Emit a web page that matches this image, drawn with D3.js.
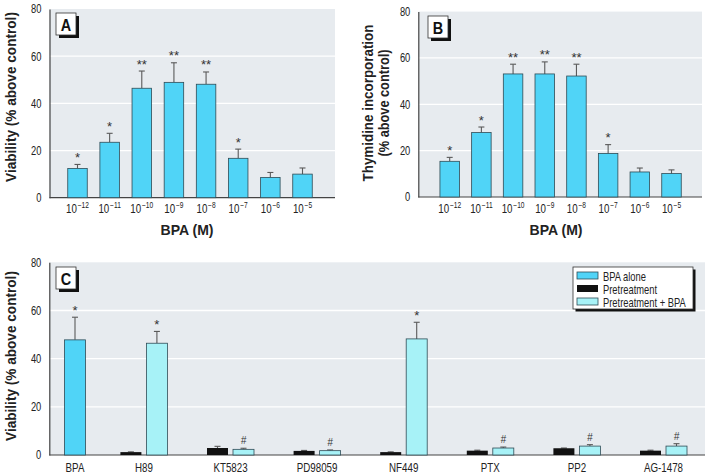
<!DOCTYPE html>
<html><head><meta charset="utf-8">
<script src="https://cdn.jsdelivr.net/npm/d3@7"></script>
<style>
body{margin:0;background:#fff;}
svg{display:block;font-family:"Liberation Sans",Arial,sans-serif;}
</style></head>
<body><svg id="c" width="706" height="475"></svg>
<script>
// ---- data ----
const concExp = ["\u221212","\u221211","\u221210","\u22129","\u22128","\u22127","\u22126","\u22125"];
const viabA    = [12.4, 23.5, 46.4, 48.9, 48.1, 16.7, 8.6, 10.0];
const viabAErr = [1.7, 3.8, 7.3, 8.3, 5.2, 3.9, 2.1, 2.6];
const sigA     = ["*","*","**","**","**","*","",""];
const thymB    = [15.4, 27.8, 53.1, 53.1, 52.2, 18.8, 10.8, 10.1];
const thymBErr = [1.7, 2.4, 4.2, 5.2, 5.1, 3.8, 1.7, 1.6];
const sigB     = ["*","*","**","**","**","*","",""];
const yTicks   = [0,20,40,60,80];

const groupsC      = ["BPA","H89","KT5823","PD98059","NF449","PTX","PP2","AG-1478"];
const bpaAlone     = [47.8, null, null, null, null, null, null, null];
const bpaAloneErr  = [9.4, null, null, null, null, null, null, null];
const pretreat     = [null, 1.2, 2.9, 1.7, 1.2, 1.8, 2.8, 1.8];
const pretreatErr  = [null, 0.1, 0.7, 0.2, 0.1, 0.2, 0.1, 0.2];
const pretreatBPA  = [null, 46.4, 2.35, 1.8, 48.2, 2.9, 3.7, 3.7];
const pretreatBPAErr=[null, 4.9, 0.45, 0.3, 6.9, 0.4, 0.6, 1.0];
const sigC         = ["*","*","#","#","*","#","#","#"];
const legendLabels = ["BPA alone","Pretreatment","Pretreatment + BPA"];

// ---- styles ----
const COL_BPA = "#50d4f7", COL_PRE = "#111111", COL_PB = "#a7f2f7";
const BG = "#e7ebef", STROKE = "#2f4b55", ERR = "#5a5a5a";
const TXT = "#222";
const CF = 0.78;

const svg = d3.select("#c");

// place a text at (x,y) with horizontal condensing via transform
function ctext(g, x, y, str, size, opts={}){
  const t = g.append("text").attr("font-size",size).attr("fill",opts.fill||TXT)
    .attr("text-anchor",opts.anchor||"middle").text(str);
  if(opts.bold) t.attr("font-weight","bold");
  let f = opts.f||CF;
  if(opts.len){ const L = t.node().getComputedTextLength(); f = opts.len/L; }
  t.attr("transform",`translate(${x},${y})${opts.rot?" rotate(-90)":""} scale(${f},1)`);
  t.__w = t.node().getComputedTextLength()*f;
  return t;
}

function panelFrame(g, x0, x1, y, label, lx, ly){
  g.append("rect").attr("x",x0).attr("y",y(80)).attr("width",x1-x0).attr("height",y(0)-y(80)).attr("fill",BG);
  yTicks.filter(t=>t>0 && t<80).forEach(t=>{
    g.append("line").attr("x1",x0).attr("x2",x1).attr("y1",y(t)).attr("y2",y(t)).attr("stroke","#fff").attr("stroke-width",1.3);
  });
  const ax = g.append("g").attr("transform",`translate(${x0},0)`)
    .call(d3.axisLeft(y).tickValues(yTicks).tickSize(0).tickPadding(8));
  ax.select(".domain").attr("stroke","#444").attr("stroke-width",1.2);
  ax.selectAll(".tick text").each(function(d){
    const el = d3.select(this);
    el.attr("font-size",12).attr("fill",TXT).attr("font-family",null).attr("x",null).attr("dy","0.32em")
      .attr("transform",`translate(-8,0) scale(${CF},1)`);
  });
  g.append("line").attr("x1",x0).attr("x2",x1).attr("y1",y(0)).attr("y2",y(0)).attr("stroke","#444").attr("stroke-width",1.2);
  // panel label box
  g.append("rect").attr("x",lx+3).attr("y",ly+3).attr("width",20).attr("height",22).attr("fill","#111");
  g.append("rect").attr("x",lx).attr("y",ly).attr("width",20).attr("height",22).attr("fill","#fff").attr("stroke","#333").attr("stroke-width",0.8);
  ctext(g, lx+10, ly+17.5, label, 17, {bold:true, fill:"#111", f:0.85});
}

function errBar(g, cx, y, v, e, cap){
  if(v==null||e==null) return;
  g.append("line").attr("x1",cx).attr("x2",cx).attr("y1",y(v)).attr("y2",y(v+e)).attr("stroke",ERR).attr("stroke-width",1.1);
  g.append("line").attr("x1",cx-cap).attr("x2",cx+cap).attr("y1",y(v+e)).attr("y2",y(v+e)).attr("stroke",ERR).attr("stroke-width",1.1);
}

function powerLabel(g, cx, yb, exp){
  const base = ctext(g, 0, 0, "10", 12.5, {anchor:"start"});
  const sup = ctext(g, 0, 0, exp, 8.5, {anchor:"start"});
  const w1 = base.__w, w2 = sup.__w;
  const x0 = cx - (w1 + 0.8 + w2)/2;
  base.attr("transform",`translate(${x0},${yb}) scale(${CF},1)`);
  sup.attr("transform",`translate(${x0+w1+0.8},${yb-5}) scale(${CF},1)`);
}

function concPanel(vals, errs, sigs, x0, x1, y, cRange, label, lx, ly){
  const g = svg.append("g");
  panelFrame(g, x0, x1, y, label, lx, ly);
  const x = d3.scalePoint().domain(concExp).range(cRange);
  const bw = 19.5;
  concExp.forEach((c,i)=>{
    const cx = x(c);
    errBar(g, cx, y, vals[i], errs[i], 3);
    g.append("rect").attr("x",cx-bw/2).attr("y",y(vals[i])).attr("width",bw).attr("height",y(0)-y(vals[i]))
      .attr("fill",COL_BPA).attr("stroke",STROKE).attr("stroke-width",0.8);
    if(sigs[i]) g.append("text").attr("x",cx).attr("y",y(vals[i]+errs[i])-2.5).attr("text-anchor","middle")
      .attr("font-size",13).attr("fill","#333").text(sigs[i]);
    powerLabel(g, cx, y(0)+15.5, c);
  });
  return g;
}

// Panel A
const yA = d3.scaleLinear().domain([0,80]).range([197.7, 9]);
const gA = concPanel(viabA, viabAErr, sigA, 49.5, 335, yA, [77.5, 302.5], "A", 56, 13);
ctext(gA, 187, 235, "BPA (M)", 15, {bold:true, len:53});
ctext(gA, 15.5, 97, "Viability (% above control)", 15, {bold:true, len:170, rot:true});

// Panel B
const yB = d3.scaleLinear().domain([0,80]).range([197, 11.6]);
const gB = concPanel(thymB, thymBErr, sigB, 418.3, 702, yB, [449.7, 671.5], "B", 428, 16);
ctext(gB, 556, 235, "BPA (M)", 15, {bold:true, len:53});
ctext(gB, 373, 103, "Thymidine incorporation", 15, {bold:true, len:157, rot:true});
ctext(gB, 389, 103, "(% above control)", 15, {bold:true, len:107, rot:true});

// Panel C
const yC = d3.scaleLinear().domain([0,80]).range([455, 262.3]);
const gC = svg.append("g");
panelFrame(gC, 49.3, 705, yC, "C", 56, 267);
const xC = d3.scalePoint().domain(groupsC).range([57.3, 663.5]);
const bwC = 21, gap = 2.5;
groupsC.forEach((grp,i)=>{
  const c = xC(grp);
  let markX=null, markTop=null, labX=c;
  if(bpaAlone[i]!=null){
    const bx = c + 17.7;
    errBar(gC, bx, yC, bpaAlone[i], bpaAloneErr[i], 3);
    gC.append("rect").attr("x",bx-bwC/2).attr("y",yC(bpaAlone[i])).attr("width",bwC).attr("height",yC(0)-yC(bpaAlone[i]))
      .attr("fill",COL_BPA).attr("stroke",STROKE).attr("stroke-width",0.8);
    markX = bx; markTop = bpaAlone[i]+bpaAloneErr[i]; labX = bx;
  } else {
    const bx0 = c - gap - bwC/2, bx1 = c + gap + bwC/2;
    errBar(gC, bx0, yC, pretreat[i], pretreatErr[i], 3);
    gC.append("rect").attr("x",bx0-bwC/2).attr("y",yC(pretreat[i])).attr("width",bwC).attr("height",yC(0)-yC(pretreat[i]))
      .attr("fill",COL_PRE);
    errBar(gC, bx1, yC, pretreatBPA[i], pretreatBPAErr[i], 3);
    gC.append("rect").attr("x",bx1-bwC/2).attr("y",yC(pretreatBPA[i])).attr("width",bwC).attr("height",yC(0)-yC(pretreatBPA[i]))
      .attr("fill",COL_PB).attr("stroke",STROKE).attr("stroke-width",0.8);
    markX = bx1; markTop = pretreatBPA[i]+pretreatBPAErr[i];
  }
  ctext(gC, labX, 472, grp, 12.5);
  if(sigC[i]=="#") gC.append("text").attr("x",markX).attr("y",yC(markTop)-4).attr("text-anchor","middle").attr("font-size",10).attr("fill","#333").attr("font-style","italic").text("#");
  else gC.append("text").attr("x",markX).attr("y",yC(markTop)-2.5).attr("text-anchor","middle").attr("font-size",13).attr("fill","#333").text(sigC[i]);
});
ctext(gC, 15.5, 356, "Viability (% above control)", 15, {bold:true, len:170, rot:true});

// Legend
const lg = gC.append("g");
lg.append("rect").attr("x",575.5).attr("y",269.5).attr("width",120).attr("height",42).attr("fill","#111");
lg.append("rect").attr("x",573).attr("y",267).attr("width",120).attr("height",42).attr("fill","#fff").attr("stroke","#333").attr("stroke-width",0.8);
const legCols = [COL_BPA, COL_PRE, COL_PB];
legendLabels.forEach((l,i)=>{
  const yy = 272 + i*13;
  lg.append("rect").attr("x",577).attr("y",yy).attr("width",21).attr("height",7).attr("fill",legCols[i]).attr("stroke",i==1?"none":STROKE).attr("stroke-width",0.8);
  ctext(lg, 603, yy+8.5, l, 12, {anchor:"start"});
});
</script></body></html>
